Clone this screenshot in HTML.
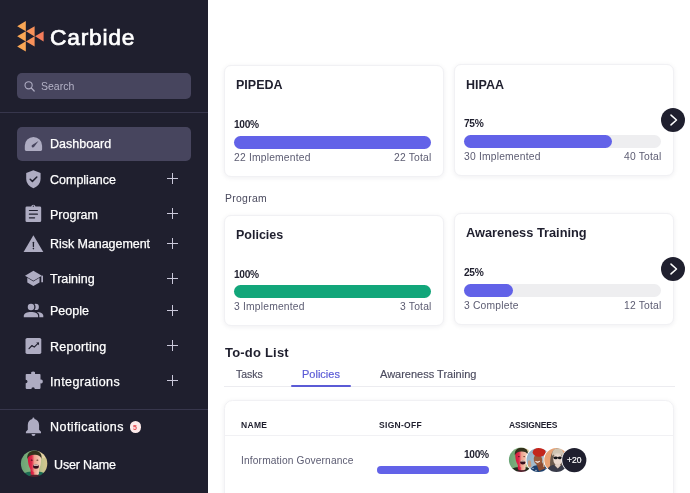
<!DOCTYPE html>
<html>
<head>
<meta charset="utf-8">
<title>Carbide Dashboard</title>
<style>
*{margin:0;padding:0;box-sizing:border-box}
html,body{width:690px;height:493px;overflow:hidden;background:#fff}
body{font-family:"Liberation Sans",sans-serif;position:relative;color:#1f1f2e}
.abs{position:absolute}
.t{position:absolute;line-height:1;white-space:nowrap;will-change:transform}
#side{position:absolute;left:0;top:0;width:208px;height:493px;background:#1f1f2e}
.hl{position:absolute;left:0;width:208px;height:1px;background:#37364c}
.nav{color:#fff;font-size:12.5px;left:50px;-webkit-text-stroke:0.25px #fff}
.plus{position:absolute;left:167px;width:11px;height:11px}
.plus:before{content:"";position:absolute;left:0;top:5px;width:11px;height:1.4px;background:#cac8da}
.plus:after{content:"";position:absolute;left:5px;top:0;width:1.4px;height:11px;background:#cac8da}
.ico{position:absolute;overflow:visible}
.card{position:absolute;background:#fff;border:1px solid #f1f1f4;border-radius:7px;box-shadow:0 1px 5px rgba(30,30,60,.07)}
.ttl{font-weight:bold;font-size:12.5px;color:#1f1f2e}
.pct{font-weight:bold;font-size:10.2px;color:#1f1f2e;letter-spacing:-.35px}
.sm{font-size:10.3px;color:#5c5c72;letter-spacing:.2px}
.bar{position:absolute;height:13px;border-radius:7px;background:#eeeef0}
.fill{position:absolute;left:0;top:0;height:100%;border-radius:7px;background:#6262e8}
.arrow{position:absolute;width:24px;height:24px;border-radius:50%;background:#1f1f2e}
.th{font-weight:bold;font-size:8.5px;color:#1f1f2e;letter-spacing:.3px}
</style>
</head>
<body>
<svg width="0" height="0" style="position:absolute"><defs>
  <filter id="FBL" x="-20%" y="-20%" width="140%" height="140%"><feGaussianBlur stdDeviation=".45"/></filter>
  <linearGradient id="FBG" x1="0" x2="1" y1="0" y2="0"><stop offset="0" stop-color="#62a274"/><stop offset=".45" stop-color="#88b37e"/><stop offset=".8" stop-color="#c9c48e"/><stop offset="1" stop-color="#dcc58a"/></linearGradient>
  <linearGradient id="FSK" x1="0" x2="1" y1="0" y2="0"><stop offset="0" stop-color="#d4143a"/><stop offset=".32" stop-color="#df2c4c"/><stop offset=".5" stop-color="#efa08c"/><stop offset="1" stop-color="#f7d3bc"/></linearGradient>
</defs></svg>
<div id="side">
  <!-- logo -->
  <svg class="ico" style="left:0;top:0" width="60" height="60" viewBox="0 0 60 60">
    <g fill="#f9a655">
      <polygon points="17.2,26.2 25.8,21.1 25.8,31.3"/>
      <polygon points="17.2,36.3 25.8,31.2 25.8,41.4"/>
      <polygon points="17.2,46.4 25.8,41.3 25.8,51.5"/>
    </g>
    <g fill="#f8915a">
      <polygon points="26,31.3 34.6,26.2 34.6,36.4"/>
      <polygon points="26,41.4 34.6,36.3 34.6,46.5"/>
    </g>
    <polygon fill="#f47c5b" points="35,36.3 43.6,31.2 43.6,41.4"/>
  </svg>
  <div class="t" style="left:49.6px;top:26.2px;font-size:22.8px;color:#fff;letter-spacing:.75px;-webkit-text-stroke:.7px #fff">Carbide</div>

  <!-- search -->
  <div class="abs" style="left:17px;top:73px;width:173.5px;height:26px;border-radius:5px;background:#47455e"></div>
  <svg class="ico" style="left:23px;top:79px" width="14" height="14" viewBox="0 0 14 14"><circle cx="5.6" cy="6.3" r="3.6" fill="none" stroke="#aeacc2" stroke-width="1.1"/><path d="M8.3 9 L11.2 12" stroke="#aeacc2" stroke-width="1.2" stroke-linecap="round"/></svg>
  <div class="t" style="left:41px;top:81.1px;font-size:10.5px;color:#b5b3c7">Search</div>
  <div class="hl" style="top:112px"></div>

  <!-- active -->
  <div class="abs" style="left:17px;top:127px;width:173.5px;height:34px;border-radius:5px;background:#47455e"></div>


  <!-- icons -->
  <svg class="ico" style="left:0;top:120px" width="60" height="330" viewBox="0 120 60 330">
    <g fill="#aeacc2">
      <!-- dashboard gauge -->
      <path d="M24.8 149.6 V145.7 a8.65 8.65 0 0 1 17.3 0 V149.6 a1.4 1.4 0 0 1 -1.4 1.4 H26.2 a1.4 1.4 0 0 1 -1.4 -1.4z"/>
    </g>
    <path d="M38.5 141 L34 147 a1.4 1.4 0 0 1 -2.2 -1.7z" fill="#47455e"/>
    <g fill="#aeacc2">
      <!-- shield -->
      <path d="M33.4 170.2 L40.6 173 V178.6 C40.6 183.6 37.4 186.8 33.4 188.2 C29.4 186.8 26.2 183.6 26.2 178.6 V173z"/>
      <!-- clipboard -->
      <path d="M26.9 206.4 H31.2 a2.2 2.2 0 0 1 4.3 0 H39.8 a1.4 1.4 0 0 1 1.4 1.4 V220.7 a1.4 1.4 0 0 1 -1.4 1.4 H26.9 a1.4 1.4 0 0 1 -1.4 -1.4 V207.8 a1.4 1.4 0 0 1 1.4 -1.4z"/>
      <!-- warning -->
      <path d="M33.4 235.2 L43.3 251.9 H23.6z"/>
      <!-- grad cap -->
      <path d="M33.4 270.8 L41.9 275.7 L33.4 280.7 L25 275.7z"/>
      <path d="M27.3 277.8 L33.4 281.4 L39.5 277.8 V282.6 L33.4 286 L27.3 282.6z"/>
      <path d="M41.3 276 L43 275.6 V282.2 H41.3z"/>
      <!-- people -->
      <circle cx="35.7" cy="306.9" r="3.2"/>
      <path d="M36 311.9 C40.4 311.9 43.3 313.4 43.3 315.8 V317.3 H36z"/>
      <circle cx="31" cy="306.9" r="4.6" fill="#1f1f2e"/>
      <path d="M22.7 318.4 V315.8 C22.7 312.4 26.4 310.8 31 310.8 C35.6 310.8 39.3 312.4 39.3 315.8 V318.4z" fill="#1f1f2e"/>
      <circle cx="31" cy="306.9" r="3.25"/>
      <path d="M23.8 317.3 V315.8 C23.8 313.4 27 312 31 312 C35 312 38.1 313.4 38.1 315.8 V317.3z"/>
      <!-- reporting -->
      <rect x="25.5" y="337.9" width="15.8" height="16" rx="1.6"/>
      <!-- puzzle -->
      <path d="M25.7 374.8 a0.8 0.8 0 0 1 .8 -.8 H31.2 a1.95 1.95 0 1 1 3.8 0 H39.7 a.8 .8 0 0 1 .8 .8 V379.6 a1.9 1.9 0 1 1 0 3.7 V388.1 a.8 .8 0 0 1 -.8 .8 H34.8 a1.7 1.7 0 1 0 -3.4 0 H26.5 a.8 .8 0 0 1 -.8 -.8 V383.3 a1.8 1.8 0 1 0 0 -3.6z"/>
      <!-- bell -->
      <path d="M33.4 417.5 a1 1 0 0 1 1 1 v.6 C37.2 419.8 39.1 422 39.1 425 V429.8 L41 431.7 V433.3 H25.9 V431.7 L27.8 429.8 V425 C27.8 422 29.6 419.8 32.4 419.1 v-.6 a1 1 0 0 1 1 -1z"/>
      <path d="M31.5 434.1 H35.4 a1.95 1.95 0 0 1 -3.9 0z"/>
    </g>
    <g stroke="#1f1f2e" fill="none" stroke-linecap="round" stroke-linejoin="round">
      <path d="M30.2 179.3 L32.4 181.4 L36.8 177" stroke-width="1.5"/>
      <path d="M29.4 210.5 H37.4 M29.4 214.2 H37.4 M29.4 217.8 H34.6" stroke-width="1.2"/>
      <path d="M33.4 242.3 V246.6" stroke-width="1.3"/>
      <path d="M29 348.6 L32 345.5 L34.2 347.1 L38.3 343.2" stroke-width="1.1"/>
    </g>
    <circle cx="33.4" cy="248.6" r=".8" fill="#1f1f2e"/>
    <circle cx="33.35" cy="206.2" r=".65" fill="#1f1f2e"/>
    <path d="M36.2 342.4 H39 V345.2z" fill="#1f1f2e"/>
  </svg>
  <div class="t nav" style="top:138px">Dashboard</div>
  <div class="t nav" style="top:173.5px">Compliance</div>
  <div class="t nav" style="top:208.6px">Program</div>
  <div class="t nav" style="top:238.3px;letter-spacing:-.05px">Risk Management</div>
  <div class="t nav" style="top:273px">Training</div>
  <div class="t nav" style="top:304.7px">People</div>
  <div class="t nav" style="top:340.5px;letter-spacing:.25px">Reporting</div>
  <div class="t nav" style="top:375.5px;letter-spacing:.4px">Integrations</div>
  <div class="plus" style="top:173px"></div>
  <div class="plus" style="top:208px"></div>
  <div class="plus" style="top:238px"></div>
  <div class="plus" style="top:273px"></div>
  <div class="plus" style="top:305px"></div>
  <div class="plus" style="top:340px"></div>
  <div class="plus" style="top:375px"></div>

  <div class="hl" style="top:408.5px"></div>
  <div class="t nav" style="top:421.4px;letter-spacing:.45px">Notifications</div>
  <div class="abs" style="left:129.5px;top:421.3px;width:11.6px;height:11.6px;border-radius:50%;background:#fdeaea"></div>
  <div class="t" style="left:133.3px;top:423.8px;font-size:7px;font-weight:bold;color:#e5484d">5</div>

  <!-- user avatar -->
  <svg class="ico" style="left:18px;top:448px" width="32" height="32" viewBox="18 448 32 32">
    <defs><clipPath id="cu"><circle cx="34.1" cy="463.7" r="13.2"/></clipPath></defs>
    <g clip-path="url(#cu)"><g transform="translate(34.1 463.7) scale(1.09)">
    <g filter="url(#FBL)">
      <rect x="-14" y="-14" width="28" height="28" fill="url(#FBG)"/>
      <ellipse cx="8" cy="-9" rx="5" ry="4" fill="#e3d2a2"/>
      <path d="M-13 14 C-12 9.5 -8.5 8 -4.5 7.4 L5.2 7.4 C9 8 12 9.5 13 14z" fill="#1d6d54"/>
      <path d="M-3.2 3 H4.4 V9.4 C2.6 11.2 -1.6 11.2 -3.2 9.4z" fill="url(#FSK)"/>
      <path d="M-4.6 11.6 C-2 9.8 3.6 9.8 6 11.6 L6 14 H-4.6z" fill="#54222e"/>
      <path d="M-5.8 -7 C-5.9 -3 -5.4 0.5 -4.4 3 C-3.2 5.8 -1.2 7.6 0.6 7.6 C2.6 7.6 4.6 5.6 5.4 3 C6.2 0.5 6.4 -3 6.2 -7 C4 -9.6 -3.6 -9.6 -5.8 -7z" fill="url(#FSK)"/>
      <path d="M-6.2 -4.4 C-6.8 -9.4 -3.8 -11.9 0.4 -11.9 C4.8 -11.9 7.4 -9.4 6.8 -4.6 C5.8 -7.4 3.2 -8.4 0.2 -8.2 C-3 -8 -5.2 -7 -6.2 -4.4z" fill="#33321f"/>
      <ellipse cx="1.7" cy="2.6" rx="2.6" ry="2" fill="#34101a"/>
      <rect x="-.4" y=".8" width="4.2" height="1" rx=".5" fill="#f7e6de"/>
      <ellipse cx="-2.2" cy="-3.2" rx=".9" ry=".6" fill="#5a1020"/><ellipse cx="3" cy="-3.2" rx=".9" ry=".6" fill="#6a4030"/>
    </g>
    </g></g>
  </svg>
  <div class="t nav" style="left:54px;top:458.5px;letter-spacing:-.15px">User Name</div>
</div>

<!-- cards row 1 -->
<div class="card" style="left:224px;top:64.6px;width:220px;height:112px"></div>
<div class="card" style="left:454px;top:64.2px;width:220px;height:111.8px"></div>
<div class="t ttl" style="left:236px;top:79.2px">PIPEDA</div>
<div class="t ttl" style="left:465.5px;top:78.7px">HIPAA</div>
<div class="t pct" style="left:234.3px;top:119.6px">100%</div>
<div class="t pct" style="left:464.3px;top:118.7px">75%</div>
<div class="bar" style="left:234px;top:136px;width:197px"><div class="fill" style="width:100%"></div></div>
<div class="bar" style="left:464px;top:135.3px;width:197px"><div class="fill" style="width:75%"></div></div>
<div class="t sm" style="left:234px;top:152.5px">22 Implemented</div>
<div class="t sm" style="right:258.8px;top:152.5px">22 Total</div>
<div class="t sm" style="left:464px;top:152px">30 Implemented</div>
<div class="t sm" style="right:28.8px;top:152px">40 Total</div>
<div class="arrow" style="left:661.2px;top:108.1px"><svg width="24" height="24" viewBox="0 0 24 24" style="position:absolute;left:0;top:0"><path d="M10 7.1 L15.5 12 L10 16.9" fill="none" stroke="#fff" stroke-width="1.5" stroke-linecap="round" stroke-linejoin="round"/></svg></div>

<div class="t sm" style="left:224.5px;top:193.8px;color:#4a4a5e;font-size:10.4px;letter-spacing:.3px">Program</div>

<!-- cards row 2 -->
<div class="card" style="left:224px;top:214.8px;width:220px;height:111.6px"></div>
<div class="card" style="left:454px;top:213.4px;width:220px;height:111.6px"></div>
<div class="t ttl" style="left:236px;top:228.7px">Policies</div>
<div class="t ttl" style="left:465.5px;top:226.9px;font-size:12.8px">Awareness Training</div>
<div class="t pct" style="left:234.3px;top:269.7px">100%</div>
<div class="t pct" style="left:464.3px;top:268.4px">25%</div>
<div class="bar" style="left:234px;top:285.2px;width:197px"><div class="fill" style="width:100%;background:#12a67a"></div></div>
<div class="bar" style="left:464px;top:284.3px;width:197px"><div class="fill" style="width:25%"></div></div>
<div class="t sm" style="left:234px;top:302.3px">3 Implemented</div>
<div class="t sm" style="right:258.8px;top:302.3px">3 Total</div>
<div class="t sm" style="left:464px;top:301.4px">3 Complete</div>
<div class="t sm" style="right:28.8px;top:301.4px">12 Total</div>
<div class="arrow" style="left:661.2px;top:257.4px"><svg width="24" height="24" viewBox="0 0 24 24" style="position:absolute;left:0;top:0"><path d="M10 7.1 L15.5 12 L10 16.9" fill="none" stroke="#fff" stroke-width="1.5" stroke-linecap="round" stroke-linejoin="round"/></svg></div>

<!-- todo -->
<div class="t" style="left:224.6px;top:346px;font-size:13px;font-weight:bold;letter-spacing:.2px">To-do List</div>
<div class="t" style="left:235.5px;top:369px;font-size:10.5px;color:#4a4a5e;-webkit-text-stroke:.15px #4a4a5e">Tasks</div>
<div class="t" style="left:302px;top:369px;font-size:11px;color:#5b5bd6;-webkit-text-stroke:.2px #5b5bd6">Policies</div>
<div class="t" style="left:379.5px;top:369px;font-size:11px;color:#4a4a5e;-webkit-text-stroke:.15px #4a4a5e">Awareness Training</div>
<div class="abs" style="left:224px;top:386px;width:451px;height:1px;background:#ececf0"></div>
<div class="abs" style="left:291.3px;top:384.6px;width:60px;height:2.7px;border-radius:1.4px;background:#5b5bd6"></div>

<div class="card" style="left:224px;top:399.8px;width:450px;height:120px;border-radius:8.5px"></div>
<div class="t th" style="left:241px;top:421.3px">NAME</div>
<div class="t th" style="left:378.8px;top:421.3px">SIGN-OFF</div>
<div class="t th" style="left:509px;top:421.3px;letter-spacing:-.15px">ASSIGNEES</div>
<div class="abs" style="left:225px;top:435px;width:448.5px;height:1px;background:#f1f1f4"></div>
<div class="t sm" style="left:241px;top:455.9px;font-size:10.2px;letter-spacing:.15px">Information Governance</div>
<div class="t pct" style="right:201px;top:449.7px">100%</div>
<div class="bar" style="left:377px;top:466.3px;width:112px;height:8px"><div class="fill" style="width:100%"></div></div>

<!-- assignee avatars -->
<svg class="ico" style="left:505px;top:444px" width="90" height="34" viewBox="505 444 90 34">
  <defs>
    <clipPath id="c1"><circle cx="521.1" cy="459.8" r="12.2"/></clipPath>
    <clipPath id="c2"><circle cx="538.5" cy="459.9" r="12"/></clipPath>
    <clipPath id="c3"><circle cx="556.3" cy="459.9" r="12"/></clipPath>
    <filter id="bl" x="-20%" y="-20%" width="140%" height="140%"><feGaussianBlur stdDeviation=".45"/></filter>
    <linearGradient id="g1" x1="0" x2="1" y1="0" y2="0"><stop offset="0" stop-color="#5f9f72"/><stop offset=".45" stop-color="#86b07e"/><stop offset="1" stop-color="#d9c99a"/></linearGradient>
    <linearGradient id="f1" x1="0" x2="1" y1="0" y2="0"><stop offset="0" stop-color="#d4153c"/><stop offset=".3" stop-color="#e2354f"/><stop offset=".5" stop-color="#f2a48f"/><stop offset="1" stop-color="#f7d3bb"/></linearGradient>
    <linearGradient id="g2" x1="0" x2="1" y1="0" y2="1"><stop offset="0" stop-color="#86a9c4"/><stop offset="1" stop-color="#c3d0d6"/></linearGradient>
  </defs>
  <g clip-path="url(#c1)"><g transform="translate(521.1 459.8) scale(1.01)">
    <g filter="url(#FBL)">
      <rect x="-14" y="-14" width="28" height="28" fill="url(#FBG)"/>
      <ellipse cx="8" cy="-9" rx="5" ry="4" fill="#e3d2a2"/>
      <path d="M-13 14 C-12 9.5 -8.5 8 -4.5 7.4 L5.2 7.4 C9 8 12 9.5 13 14z" fill="#232a1e"/>
      <path d="M-3.2 3 H4.4 V9.4 C2.6 11.2 -1.6 11.2 -3.2 9.4z" fill="url(#FSK)"/>
      <path d="M-4.6 11.6 C-2 9.8 3.6 9.8 6 11.6 L6 14 H-4.6z" fill="#54222e"/>
      <path d="M-5.8 -7 C-5.9 -3 -5.4 0.5 -4.4 3 C-3.2 5.8 -1.2 7.6 0.6 7.6 C2.6 7.6 4.6 5.6 5.4 3 C6.2 0.5 6.4 -3 6.2 -7 C4 -9.6 -3.6 -9.6 -5.8 -7z" fill="url(#FSK)"/>
      <path d="M-6.2 -4.4 C-6.8 -9.4 -3.8 -11.9 0.4 -11.9 C4.8 -11.9 7.4 -9.4 6.8 -4.6 C5.8 -7.4 3.2 -8.4 0.2 -8.2 C-3 -8 -5.2 -7 -6.2 -4.4z" fill="#33321f"/>
      <ellipse cx="1.7" cy="2.6" rx="2.6" ry="2" fill="#34101a"/>
      <rect x="-.4" y=".8" width="4.2" height="1" rx=".5" fill="#f7e6de"/>
      <ellipse cx="-2.2" cy="-3.2" rx=".9" ry=".6" fill="#5a1020"/><ellipse cx="3" cy="-3.2" rx=".9" ry=".6" fill="#6a4030"/>
    </g>
  </g></g>
  <circle cx="538.5" cy="459.9" r="12.8" fill="#fff"/>
  <g clip-path="url(#c2)"><g filter="url(#bl)">
    <rect x="525" y="447" width="27" height="27" fill="url(#g2)"/>
    <path d="M529.5 474 C530 468 533 465.4 537 465.2 L544 464.6 C547.5 466 549.5 469 550 474z" fill="#1f3f6c"/>
    <path d="M535.6 462 L541 460 L545.2 468.4 L539 471z" fill="#8a4c30"/>
    <ellipse cx="538" cy="459.6" rx="4.2" ry="5.2" fill="#9a5a3a" transform="rotate(-12 538 459.6)"/>
    <ellipse cx="539.2" cy="452.2" rx="6.5" ry="4.6" fill="#c3271f"/>
    <path d="M535.4 461.4 Q537.6 463.6 540 461.2 Q537.6 462.2 535.4 461.4z" fill="#fff" stroke="#fff" stroke-width=".5"/>
    <path d="M528 461 C529.4 459.6 530.8 460.4 531 462.4 L531.4 466.6 L528 468z" fill="#c99a7c"/>
    <path d="M542.8 459.6 L544.2 459.6 L544.6 467 L543.2 467z" fill="#c9a88c"/>
    <circle cx="533" cy="468.4" r=".6" fill="#dfe8f2"/><circle cx="536" cy="470.4" r=".6" fill="#dfe8f2"/><circle cx="546" cy="469" r=".6" fill="#dfe8f2"/>
  </g></g>
  <circle cx="556.3" cy="459.9" r="12.8" fill="#fff"/>
  <g clip-path="url(#c3)"><g filter="url(#bl)">
    <rect x="543" y="447" width="27" height="27" fill="#e8a173"/>
    <path d="M550.2 470 C549.6 460 550.4 449 557.6 448.4 C564.6 448.8 565.4 460 564.6 470z" fill="#6a5a4e"/>
    <path d="M552 456 C552 450 554.6 448.6 557.8 448.6 C561.2 448.6 563.8 450.4 563.6 456 C562 452.6 554 452.6 552 456z" fill="#cfc4b2"/>
    <ellipse cx="557.8" cy="459.2" rx="4.5" ry="6.2" fill="#ead9ce"/>
    <path d="M553.4 455.4 C554.4 452 561.2 452 562.2 455.4 C560.4 454.2 555.2 454.2 553.4 455.4z" fill="#d9cfbf"/>
    <path d="M546 474 C546.6 468.4 549.6 465.6 553.6 464.8 L557.8 468.4 L562 464.8 C565.6 465.8 568 468.6 568.4 474z" fill="#393a48"/>
    <path d="M555 465.4 L557.8 468.4 L560.6 465.4 L560 463.8 H555.6z" fill="#e0cfc4"/>
    <ellipse cx="555.7" cy="457.9" rx="2" ry="1.4" fill="#15151a"/>
    <ellipse cx="559.9" cy="457.9" rx="2" ry="1.4" fill="#15151a"/>
    <rect x="553.4" y="457" width="8.8" height=".7" fill="#15151a"/>
  </g></g>
  <circle cx="574.3" cy="460.1" r="12.9" fill="#fff"/>
  <circle cx="574.3" cy="460.1" r="12.1" fill="#1f1f2e"/>
</svg>
<div class="t" style="left:567.2px;top:456.2px;font-size:8.5px;color:#fff;-webkit-text-stroke:.2px #fff">+20</div>
</body>
</html>
